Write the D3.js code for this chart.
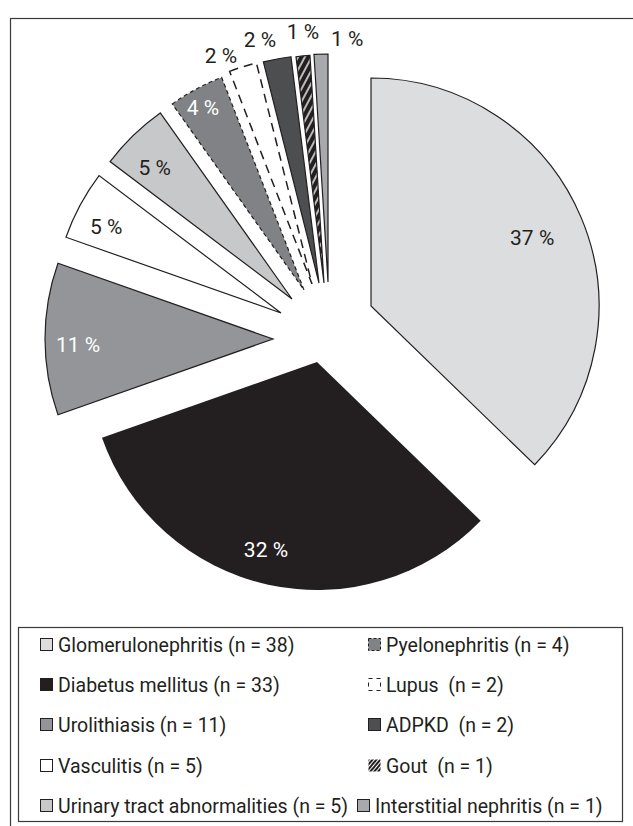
<!DOCTYPE html>
<html>
<head>
<meta charset="utf-8">
<script src="https://cdn.jsdelivr.net/npm/d3@7"></script>
<style>
  html, body { margin: 0; padding: 0; background: #fff; }
  svg { display: block; }
  text { font-family: Roboto, "Open Sans", "Liberation Sans", sans-serif; }
</style>
</head>
<body>
<svg id="chart" width="633" height="826"></svg>
<script>
// ---- data ----
const categories = [
  "Glomerulonephritis", "Diabetus mellitus", "Urolithiasis", "Vasculitis",
  "Urinary tract abnormalities", "Pyelonephritis", "Lupus", "ADPKD",
  "Gout", "Interstitial nephritis"
];
const counts = [38, 33, 11, 5, 5, 4, 2, 2, 1, 1];
// legend entries printed with a wider gap before the count
const wideGap = ["Lupus", "ADPKD", "Gout"];

// ---- styles ----
const INK = "#231f20";
const sliceStyle = [
  { fill: "#dcdddf", stroke: INK, dash: null, text: INK },
  { fill: INK, stroke: "none", dash: null, text: "#fff" },
  { fill: "#939598", stroke: INK, dash: null, text: "#fff" },
  { fill: "#ffffff", stroke: INK, dash: null, text: INK },
  { fill: "#c7c8ca", stroke: INK, dash: null, text: INK },
  { fill: "#808285", stroke: INK, dash: "4,3", text: "#fff" },
  { fill: "#ffffff", stroke: INK, dash: "9,6", text: INK },
  { fill: "#4d4e50", stroke: INK, dash: null, text: INK },
  { fill: "url(#hatch)", stroke: INK, dash: null, text: INK },
  { fill: "#a7a9ac", stroke: INK, dash: null, text: INK }
];

// ---- layout ----
const base = [320, 320];
const radius = 228;
// each slice is pulled out from the common centre by its own vector
const explode = [
  [51, -14], [-3, 42], [-47, 19], [-39, -7], [-28, -21],
  [-16, -30], [-8, -36], [-1, -37], [4, -37], [8, -38]
];
// label distance from the slice tip and angular nudge (degrees)
const labelRadius = [175, 194, 195, 195, 190, 209, 246, 251, 252, 244];
const labelNudge  = [0, 2.9, -1.5, -2, -2.2, -0.7, -4.1, -3, 0.5, 6.3];
// legend item positions: column 1 then column 2
const legendX = [40, 40, 40, 40, 40, 368, 368, 368, 368, 357];
const legendY = [644, 684, 724, 765, 805, 644, 684, 724, 765, 805];

const svg = d3.select("#chart");
const defs = svg.append("defs");

// diagonal white hatching on black
const hatch = defs.append("pattern")
  .attr("id", "hatch").attr("patternUnits", "userSpaceOnUse")
  .attr("width", 6).attr("height", 6)
  .attr("patternTransform", "rotate(28)");
hatch.append("rect").attr("width", 6).attr("height", 6).attr("fill", INK);
hatch.append("line").attr("x1", 3).attr("y1", 0).attr("x2", 3).attr("y2", 6)
  .attr("stroke", "#fff").attr("stroke-width", 1.4);

const hatchSmall = defs.append("pattern")
  .attr("id", "hatchSmall").attr("patternUnits", "userSpaceOnUse")
  .attr("width", 3).attr("height", 3)
  .attr("patternTransform", "rotate(40)");
hatchSmall.append("rect").attr("width", 3).attr("height", 3).attr("fill", INK);
hatchSmall.append("line").attr("x1", 1.5).attr("y1", 0).attr("x2", 1.5).attr("y2", 3)
  .attr("stroke", "#fff").attr("stroke-width", 1);

// outer frame (open to the right and bottom)
svg.append("rect")
  .attr("x", 10.5).attr("y", 18.5).attr("width", 700).attr("height", 900)
  .attr("fill", "none").attr("stroke", "#3a3a3a").attr("stroke-width", 1.2);

// ---- pie ----
const total = d3.sum(counts);
const pie = d3.pie().sort(null).startAngle(0).endAngle(2 * Math.PI);
const arcs = pie(counts);
const arc = d3.arc().innerRadius(0).outerRadius(radius);

const slices = svg.append("g").selectAll("g.slice")
  .data(arcs).join("g")
  .attr("class", "slice")
  .attr("transform", (d, i) =>
    `translate(${base[0] + explode[i][0]},${base[1] + explode[i][1]})`);

slices.append("path")
  .attr("d", arc)
  .attr("fill", (d, i) => sliceStyle[i].fill)
  .attr("stroke", (d, i) => sliceStyle[i].stroke)
  .attr("stroke-width", (d, i) => sliceStyle[i].dash === "9,6" ? 1.5 : 1.2)
  .attr("stroke-dasharray", (d, i) => sliceStyle[i].dash)
  .attr("stroke-linejoin", "miter");

slices.append("text")
  .attr("transform", (d, i) => {
    const mid = (d.startAngle + d.endAngle) / 2 + labelNudge[i] * Math.PI / 180;
    const [x, y] = d3.pointRadial(mid, labelRadius[i]);
    return `translate(${x},${y})`;
  })
  .attr("text-anchor", "middle")
  .attr("dy", "0.36em")
  .attr("font-size", 21)
  .attr("font-weight", 400)
  .attr("fill", (d, i) => sliceStyle[i].text)
  .text(d => `${Math.round(d.value / total * 100)} %`);

// ---- legend ----
const legend = svg.append("g");
legend.append("rect")
  .attr("x", 18.5).attr("y", 627.5).attr("width", 604).attr("height", 194)
  .attr("fill", "#fff").attr("stroke", "#3a3a3a").attr("stroke-width", 1.2);

const legendItems = categories.map((name, i) => ({
  name, i,
  label: `${name}${wideGap.includes(name) ? "\u00a0\u00a0" : " "}(n = ${counts[i]})`
}));

const items = legend.selectAll("g.item").data(legendItems).join("g")
  .attr("class", "item")
  .attr("transform", d => `translate(${legendX[d.i]},${legendY[d.i]})`);

items.append("rect")
  .attr("x", 0.5).attr("y", -5.5).attr("width", 12).attr("height", 12)
  .attr("fill", d => d.i === 8 ? "url(#hatchSmall)" : sliceStyle[d.i].fill)
  .attr("stroke", d => d.i === 8 ? "none" : INK)
  .attr("stroke-width", 1)
  .attr("stroke-dasharray", d => d.i === 5 ? "3,2" : (d.i === 6 ? "4,4" : null));

items.append("text")
  .attr("x", 18).attr("y", 0.5).attr("dy", "0.36em")
  .attr("font-size", 19.5)
  .attr("fill", INK)
  .text(d => d.label);
</script>
</body>
</html>
